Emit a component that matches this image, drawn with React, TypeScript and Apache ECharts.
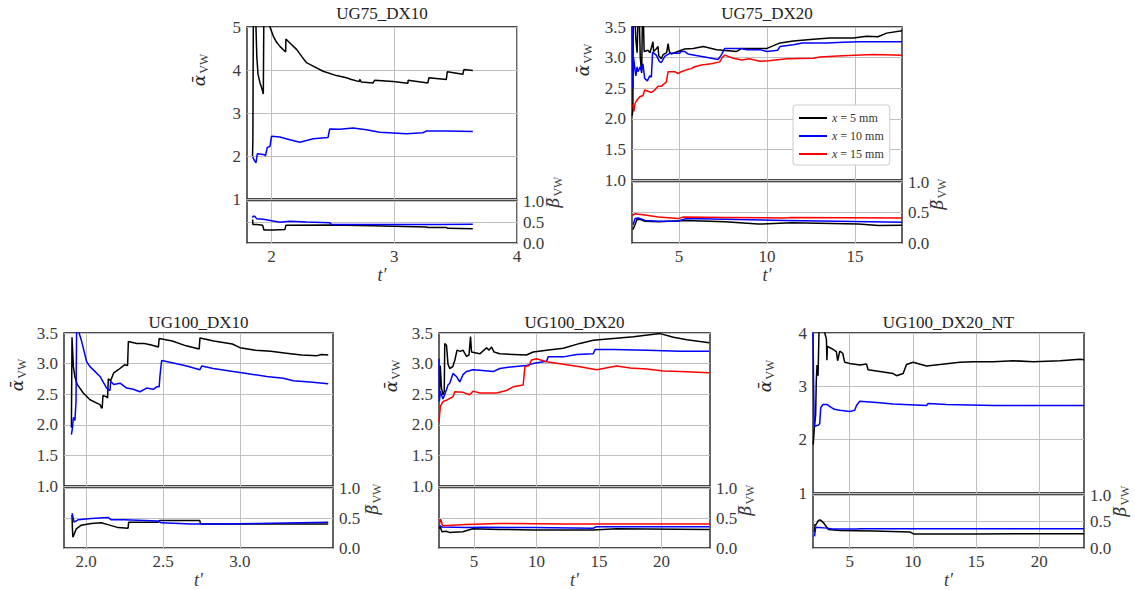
import React, { useEffect, useRef } from 'react';
import * as echarts from 'echarts';

// ---------------- data (t', value) ----------------
// UG75_DX10
const ug75dx10AlphaBlack = [[1.845,2.0],[1.848,2.4],[1.852,5.6],[1.87,5.6],[1.873,5.0],[1.88,4.3],[1.89,3.9],[1.906,3.70],[1.92,3.58],[1.933,3.44],[1.938,5.6],[1.98,5.6],[1.987,5.0],[2.014,4.79],[2.04,4.65],[2.068,4.55],[2.115,4.42],[2.117,4.72],[2.16,4.6],[2.204,4.48],[2.25,4.3],[2.285,4.17],[2.339,4.09],[2.42,3.97],[2.529,3.87],[2.61,3.82],[2.651,3.78],[2.715,3.73],[2.719,3.78],[2.732,3.72],[2.827,3.70],[2.84,3.76],[2.99,3.73],[3.111,3.69],[3.113,3.76],[3.274,3.70],[3.282,3.82],[3.424,3.78],[3.432,3.96],[3.559,3.90],[3.567,4.01],[3.64,3.99]];
const ug75dx10AlphaBlue = [[1.846,1.98],[1.86,1.90],[1.873,1.84],[1.884,2.05],[1.946,2.03],[1.95,2.0],[1.965,2.20],[1.987,2.22],[2.0,2.46],[2.068,2.44],[2.149,2.38],[2.23,2.32],[2.285,2.36],[2.339,2.40],[2.46,2.43],[2.474,2.63],[2.556,2.62],[2.664,2.65],[2.773,2.61],[2.881,2.55],[3.098,2.52],[3.233,2.54],[3.26,2.58],[3.424,2.58],[3.64,2.57]];
const ug75dx10BetaBlack = [[1.846,0.56],[1.848,0.44],[1.879,0.44],[1.928,0.42],[1.938,0.31],[2.014,0.31],[2.109,0.32],[2.117,0.42],[2.475,0.43],[2.827,0.41],[3.26,0.38],[3.274,0.37],[3.423,0.37],[3.437,0.35],[3.64,0.34]];
const ug75dx10BetaBlue = [[1.846,0.60],[1.85,0.635],[1.865,0.635],[1.879,0.575],[1.933,0.565],[2.068,0.495],[2.15,0.52],[2.285,0.50],[2.475,0.48],[2.489,0.44],[2.827,0.44],[3.369,0.44],[3.64,0.445]];

// UG75_DX20
const ug75dx20AlphaBlack = [[2.34,2.05],[2.38,2.15],[2.40,3.6],[2.5,3.6],[2.55,3.3],[2.62,3.08],[2.67,3.6],[2.75,3.6],[2.8,3.0],[2.88,2.75],[2.92,3.6],[2.98,3.6],[3.02,3.1],[3.24,3.12],[3.35,3.08],[3.45,3.18],[3.52,3.26],[3.56,3.1],[3.7,3.14],[3.81,3.18],[3.85,3.03],[4.0,2.98],[4.1,3.05],[4.3,3.08],[4.38,3.23],[4.45,3.1],[4.56,3.06],[4.94,3.10],[5.32,3.14],[5.81,3.15],[6.38,3.18],[7.14,3.13],[8.28,3.10],[8.57,3.15],[10.0,3.15],[10.74,3.24],[11.5,3.27],[12.63,3.30],[13.58,3.32],[14.9,3.32],[15.66,3.35],[16.3,3.34],[16.8,3.40],[17.67,3.44]];
const ug75dx20AlphaBlue = [[2.33,3.55],[2.38,2.5],[2.42,3.0],[2.48,2.85],[2.55,2.70],[2.62,2.85],[2.67,2.77],[2.8,2.85],[2.86,2.78],[2.95,2.90],[3.05,2.66],[3.2,2.62],[3.34,2.70],[3.43,2.68],[3.5,3.09],[3.71,3.04],[3.90,2.93],[4.0,2.92],[4.19,3.02],[4.47,3.07],[5.04,3.07],[5.1,3.10],[5.32,3.10],[5.51,3.06],[5.89,3.04],[6.46,3.01],[7.22,2.97],[7.40,3.04],[7.60,3.15],[8.54,3.15],[8.85,3.13],[9.6,3.13],[10.0,3.10],[10.6,3.12],[10.74,3.18],[11.5,3.21],[12.0,3.24],[13.4,3.24],[14.3,3.25],[15.28,3.26],[17.67,3.26]];
const ug75dx20AlphaRed = [[2.36,2.20],[2.39,2.23],[2.44,2.12],[2.5,2.25],[2.58,2.29],[2.77,2.36],[2.955,2.38],[3.05,2.47],[3.24,2.45],[3.43,2.43],[3.62,2.47],[3.81,2.53],[4.0,2.53],[4.19,2.58],[4.28,2.60],[4.38,2.77],[4.76,2.77],[4.95,2.74],[5.13,2.77],[5.42,2.80],[5.7,2.82],[5.89,2.85],[6.27,2.88],[6.84,2.90],[7.31,2.93],[7.45,3.0],[7.60,3.04],[8.09,2.99],[8.57,2.96],[9.0,2.98],[9.6,2.94],[10.1,2.95],[11.12,2.98],[12.63,2.99],[13.0,3.01],[14.3,3.03],[16.04,3.05],[17.67,3.04]];
const ug75dx20BetaBlack = [[2.38,0.22],[2.41,0.24],[2.5,0.30],[2.6,0.38],[2.78,0.39],[3.07,0.355],[3.83,0.35],[5.4,0.37],[7.61,0.35],[9.5,0.31],[11.4,0.33],[15.19,0.31],[16.33,0.285],[17.67,0.29]];
const ug75dx20BetaBlue = [[2.4,0.30],[2.5,0.40],[2.69,0.41],[3.07,0.37],[3.83,0.355],[4.96,0.36],[5.4,0.40],[7.61,0.39],[11.0,0.37],[14.0,0.355],[17.67,0.34]];
const ug75dx20BetaRed = [[2.35,0.45],[2.5,0.48],[2.69,0.47],[3.07,0.46],[3.83,0.425],[4.96,0.40],[5.25,0.425],[7.61,0.42],[11.0,0.41],[11.4,0.42],[17.67,0.41]];

// UG100_DX10
const ug100dx10AlphaBlack = [[1.905,1.95],[1.909,3.43],[1.913,3.43],[1.918,2.95],[1.928,2.78],[1.943,2.66],[1.982,2.52],[2.026,2.41],[2.091,2.33],[2.1,2.28],[2.105,2.27],[2.11,2.48],[2.13,2.46],[2.14,2.44],[2.145,2.75],[2.16,2.72],[2.18,2.85],[2.21,2.90],[2.25,2.98],[2.27,2.97],[2.275,3.36],[2.33,3.33],[2.38,3.33],[2.43,3.30],[2.47,3.27],[2.475,3.41],[2.56,3.37],[2.65,3.29],[2.735,3.24],[2.74,3.42],[2.83,3.37],[2.95,3.32],[3.0,3.26],[3.1,3.22],[3.2,3.20],[3.3,3.17],[3.4,3.14],[3.5,3.13],[3.53,3.15],[3.573,3.14]];
const ug100dx10AlphaBlue = [[1.905,1.84],[1.912,1.95],[1.918,2.12],[1.928,2.07],[1.935,2.38],[1.939,3.6],[1.945,3.6],[1.955,3.5],[1.972,3.36],[2.004,3.03],[2.026,2.95],[2.091,2.79],[2.134,2.60],[2.156,2.56],[2.16,2.71],[2.18,2.66],[2.221,2.68],[2.264,2.60],[2.307,2.58],[2.35,2.54],[2.394,2.60],[2.437,2.58],[2.459,2.62],[2.475,2.62],[2.48,2.79],[2.491,3.05],[2.567,3.01],[2.654,2.96],[2.74,2.90],[2.751,2.96],[2.826,2.92],[2.956,2.87],[3.065,2.83],[3.173,2.79],[3.281,2.76],[3.346,2.72],[3.454,2.70],[3.573,2.67]];
const ug100dx10BetaBlack = [[1.909,0.55],[1.912,0.30],[1.915,0.18],[1.937,0.32],[1.969,0.38],[2.034,0.41],[2.099,0.42],[2.143,0.39],[2.208,0.34],[2.273,0.33],[2.277,0.43],[2.467,0.43],[2.478,0.46],[2.738,0.46],[2.745,0.40],[3.117,0.40],[3.573,0.40]];
const ug100dx10BetaBlue = [[1.909,0.58],[1.915,0.52],[1.922,0.43],[1.948,0.47],[2.034,0.49],[2.143,0.51],[2.164,0.47],[2.251,0.47],[2.467,0.45],[2.489,0.42],[2.684,0.40],[2.9,0.40],[3.117,0.41],[3.573,0.43]];

// UG100_DX20
const ug100dx20AlphaBlack = [[2.24,2.45],[2.3,2.97],[2.4,2.60],[2.52,2.49],[2.62,2.55],[2.66,3.33],[2.8,3.30],[2.92,2.99],[3.06,2.92],[3.3,2.95],[3.46,3.05],[3.64,3.22],[3.9,3.20],[4.12,3.22],[4.40,3.12],[4.6,3.14],[4.72,3.44],[4.80,3.19],[5.46,3.16],[5.8,3.22],[6.0,3.26],[6.2,3.22],[6.40,3.27],[6.6,3.19],[7.06,3.16],[8.13,3.15],[9.2,3.14],[9.73,3.19],[10.8,3.22],[12.14,3.25],[13.47,3.33],[14.54,3.38],[16.14,3.41],[17.75,3.44],[19.88,3.49],[20.95,3.43],[22.02,3.39],[23.8,3.34]];
const ug100dx20AlphaBlue = [[2.2,3.08],[2.23,2.38],[2.3,2.55],[2.39,2.49],[2.52,2.42],[2.79,2.57],[2.92,2.65],[3.06,2.68],[3.32,2.84],[3.59,2.79],[3.86,2.70],[4.12,2.82],[4.40,2.87],[4.92,2.90],[5.46,2.89],[6.53,2.87],[7.06,2.92],[8.13,2.95],[9.2,2.97],[9.73,3.0],[10.8,3.04],[10.93,3.11],[12.14,3.11],[13.21,3.15],[14.54,3.16],[14.68,3.23],[16.14,3.23],[18.82,3.22],[21.49,3.20],[23.8,3.20]];
const ug100dx20AlphaRed = [[2.2,2.05],[2.31,2.30],[2.52,2.38],[2.79,2.40],[3.32,2.46],[3.46,2.54],[4.12,2.53],[4.66,2.49],[4.92,2.55],[5.46,2.52],[6.8,2.52],[7.6,2.56],[8.13,2.62],[8.93,2.65],[9.07,2.95],[9.4,2.97],[9.6,3.06],[10.0,3.08],[10.8,3.03],[12.14,2.99],[13.47,2.95],[14.81,2.90],[16.41,2.96],[17.48,2.93],[18.82,2.91],[20.15,2.88],[21.49,2.87],[23.8,2.85]];
const ug100dx20BetaBlack = [[2.25,0.32],[2.28,0.36],[2.44,0.27],[2.76,0.28],[3.03,0.26],[4.1,0.27],[4.9,0.32],[7.04,0.31],[9.71,0.30],[14.52,0.30],[16.38,0.32],[23.8,0.31]];
const ug100dx20BetaBlue = [[2.25,0.38],[2.28,0.37],[2.44,0.35],[4.36,0.34],[5.7,0.345],[9.71,0.34],[14.52,0.33],[14.78,0.355],[23.8,0.355]];
const ug100dx20BetaRed = [[2.25,0.40],[2.28,0.47],[2.36,0.47],[2.44,0.40],[2.49,0.37],[4.36,0.39],[7.04,0.41],[12.38,0.40],[17.72,0.40],[23.8,0.40]];

// UG100_DX20_NT
const ug100ntAlphaBlack = [[2.12,1.91],[2.2,2.2],[2.31,2.47],[2.36,3.1],[2.42,3.40],[2.5,3.2],[2.58,4.1],[2.8,4.1],[3.03,4.0],[3.16,3.89],[3.2,3.49],[3.24,3.75],[3.56,3.71],[3.95,3.65],[4.05,3.48],[4.22,3.66],[4.45,3.62],[4.61,3.45],[5.01,3.43],[5.8,3.40],[6.33,3.42],[6.46,3.31],[7.39,3.28],[8.44,3.24],[8.71,3.20],[9.23,3.24],[9.50,3.41],[10.02,3.45],[11.09,3.38],[12.14,3.41],[13.72,3.45],[14.78,3.46],[16.36,3.46],[17.95,3.48],[19.53,3.46],[21.65,3.48],[23.23,3.51],[23.54,3.50]];
const ug100ntAlphaBlue = [[2.1,4.1],[2.15,3.0],[2.2,2.25],[2.5,2.27],[2.63,2.30],[2.71,2.60],[2.89,2.66],[3.2,2.66],[3.56,2.60],[3.8,2.57],[4.22,2.55],[5.01,2.53],[5.4,2.55],[5.54,2.64],[5.8,2.72],[6.33,2.71],[7.39,2.69],[8.44,2.67],[11.09,2.64],[11.21,2.68],[12.67,2.66],[16.36,2.64],[23.54,2.64]];
const ug100ntBetaBlack = [[2.22,0.30],[2.26,0.45],[2.31,0.43],[2.53,0.52],[2.66,0.53],[2.92,0.48],[3.19,0.39],[3.32,0.35],[4.24,0.33],[6.89,0.32],[9.79,0.30],[10.06,0.265],[14.81,0.265],[23.54,0.27]];
const ug100ntBetaBlue = [[2.22,0.22],[2.26,0.22],[2.31,0.39],[3.19,0.375],[3.6,0.36],[5.56,0.36],[5.83,0.365],[14.81,0.365],[23.54,0.365]];

// tick values
const ticksUG75DX10 = [2, 3, 4];
const ticksUG75DX20 = [5, 10, 15];
const ticksUG100DX10 = [2.0, 2.5, 3.0];
const ticksUG100DX20 = [5, 10, 15, 20];
const ticksUG100NT = [5, 10, 15, 20];

const legendNames = ['x = 5 mm', 'x = 10 mm', 'x = 15 mm'];

const BLACK = '#000000';
const BLUE = '#0000ff';
const RED = '#ff0000';
const FONT = '"Liberation Serif", "DejaVu Serif", serif';
const LABEL_COLOR = '#3a3a3a';
const GRID_COLOR = '#c0c0c0';

const int = (v: number) => String(Math.round(v));
const one = (v: number) => v.toFixed(1);

const panels = [
  {
    title: 'UG75_DX10', left: 247, width: 270, top: 27, split: 200, bottom: 243,
    xMin: 1.8, xMax: 4, xTicks: ticksUG75DX10, xFmt: int, aMax: 5, aInt: 1, aFmt: int,
    alpha: [{ n: 'a1k', c: BLACK, d: ug75dx10AlphaBlack }, { n: 'a1b', c: BLUE, d: ug75dx10AlphaBlue }],
    beta: [{ n: 'b1k', c: BLACK, d: ug75dx10BetaBlack }, { n: 'b1b', c: BLUE, d: ug75dx10BetaBlue }],
    aLab: [199, 70], bLab: [553, 192], titleY: 13,
  },
  {
    title: 'UG75_DX20', left: 632, width: 270, top: 27, split: 181, bottom: 243,
    xMin: 2.33, xMax: 17.67, xTicks: ticksUG75DX20, xFmt: int, aMax: 3.5, aInt: 0.5, aFmt: one,
    alpha: [{ n: legendNames[0], c: BLACK, d: ug75dx20AlphaBlack }, { n: legendNames[1], c: BLUE, d: ug75dx20AlphaBlue }, { n: legendNames[2], c: RED, d: ug75dx20AlphaRed }],
    beta: [{ n: 'b2k', c: BLACK, d: ug75dx20BetaBlack }, { n: 'b2b', c: BLUE, d: ug75dx20BetaBlue }, { n: 'b2r', c: RED, d: ug75dx20BetaRed }],
    aLab: [583, 60], bLab: [937, 194], titleY: 13,
  },
  {
    title: 'UG100_DX10', left: 64, width: 269, top: 333, split: 487, bottom: 548,
    xMin: 1.857, xMax: 3.604, xTicks: ticksUG100DX10, xFmt: one, aMax: 3.5, aInt: 0.5, aFmt: one,
    alpha: [{ n: 'a3k', c: BLACK, d: ug100dx10AlphaBlack }, { n: 'a3b', c: BLUE, d: ug100dx10AlphaBlue }],
    beta: [{ n: 'b3k', c: BLACK, d: ug100dx10BetaBlack }, { n: 'b3b', c: BLUE, d: ug100dx10BetaBlue }],
    aLab: [17, 375], bLab: [372, 499], titleY: 322,
  },
  {
    title: 'UG100_DX20', left: 439, width: 271, top: 333, split: 487, bottom: 548,
    xMin: 2.2, xMax: 23.87, xTicks: ticksUG100DX20, xFmt: int, aMax: 3.5, aInt: 0.5, aFmt: one,
    alpha: [{ n: 'a4k', c: BLACK, d: ug100dx20AlphaBlack }, { n: 'a4b', c: BLUE, d: ug100dx20AlphaBlue }, { n: 'a4r', c: RED, d: ug100dx20AlphaRed }],
    beta: [{ n: 'b4k', c: BLACK, d: ug100dx20BetaBlack }, { n: 'b4b', c: BLUE, d: ug100dx20BetaBlue }, { n: 'b4r', c: RED, d: ug100dx20BetaRed }],
    aLab: [391, 376], bLab: [745, 500], titleY: 322,
  },
  {
    title: 'UG100_DX20_NT', left: 813, width: 271, top: 333, split: 494, bottom: 548,
    xMin: 2.1, xMax: 23.54, xTicks: ticksUG100NT, xFmt: int, aMax: 4, aInt: 1, aFmt: int,
    alpha: [{ n: 'a5k', c: BLACK, d: ug100ntAlphaBlack }, { n: 'a5b', c: BLUE, d: ug100ntAlphaBlue }],
    beta: [{ n: 'b5k', c: BLACK, d: ug100ntBetaBlack }, { n: 'b5b', c: BLUE, d: ug100ntBetaBlue }],
    aLab: [765, 376], bLab: [1120, 501], titleY: 322,
  },
];

function buildOption() {
  const grid: any[] = [];
  const xAxis: any[] = [];
  const yAxis: any[] = [];
  const series: any[] = [];
  const graphic: any[] = [];
  const labelStyle = { fontFamily: FONT, fontSize: 17, color: LABEL_COLOR };

  panels.forEach((p, i) => {
    const gu = i * 2;
    const gl = i * 2 + 1;
    const gridBase = { show: true, borderColor: '#111', borderWidth: 1.3, backgroundColor: 'transparent', containLabel: false, outerBoundsMode: 'none' };
    grid.push({ ...gridBase, left: p.left, top: p.top, width: p.width, height: p.split - 1 - p.top });
    grid.push({ ...gridBase, left: p.left, top: p.split + 1, width: p.width, height: p.bottom - p.split - 1 });

    const xBase = {
      type: 'value', min: p.xMin, max: p.xMax,
      axisLine: { show: false },
      axisTick: { show: false, customValues: p.xTicks },
      splitLine: { show: true, lineStyle: { color: GRID_COLOR, width: 1 } },
    };
    xAxis.push({ ...xBase, gridIndex: gu, axisLabel: { show: false, customValues: p.xTicks } });
    xAxis.push({
      ...xBase, gridIndex: gl,
      axisLabel: { show: true, customValues: p.xTicks, formatter: p.xFmt, margin: 5, ...labelStyle },
      name: 't\u2032', nameLocation: 'middle', nameGap: 22,
      nameTextStyle: { fontFamily: FONT, fontSize: 18, fontStyle: 'italic', color: LABEL_COLOR },
    });
    yAxis.push({
      type: 'value', gridIndex: gu, position: 'left', min: 1, max: p.aMax, interval: p.aInt,
      axisLine: { show: false }, axisTick: { show: false },
      axisLabel: { formatter: p.aFmt, margin: 6, ...labelStyle },
      splitLine: { show: true, lineStyle: { color: GRID_COLOR, width: 1 } },
    });
    yAxis.push({
      type: 'value', gridIndex: gl, position: 'right', min: 0, max: 1, interval: 0.5,
      axisLine: { show: false }, axisTick: { show: false },
      axisLabel: { formatter: one, margin: 6, ...labelStyle },
      splitLine: { show: true, lineStyle: { color: GRID_COLOR, width: 1 } },
    });

    const mk = (s: any, idx: number) => ({
      type: 'line', name: s.n, xAxisIndex: idx, yAxisIndex: idx, data: s.d,
      showSymbol: false, symbol: 'none', silent: true, clip: true,
      lineStyle: { color: s.c, width: 1.5 }, itemStyle: { color: s.c },
    });
    p.alpha.forEach((s) => series.push(mk(s, gu)));
    p.beta.forEach((s) => series.push(mk(s, gl)));

    graphic.push({
      type: 'text', x: p.left + p.width / 2, y: p.titleY,
      style: { text: p.title, fontFamily: FONT, fontSize: 17, fill: '#222', align: 'center', verticalAlign: 'middle' },
    });
    graphic.push({
      type: 'text', x: p.aLab[0], y: p.aLab[1], rotation: Math.PI / 2,
      style: {
        text: '{a|\u1FB1}{s|VW}', align: 'center', verticalAlign: 'middle',
        rich: {
          a: { fontFamily: '"DejaVu Serif", serif', fontSize: 17, fontStyle: 'italic', fill: '#222' },
          s: { fontFamily: FONT, fontSize: 12, fill: '#333', padding: [9, 0, 0, 1] },
        },
      },
    });
    graphic.push({
      type: 'text', x: p.bLab[0], y: p.bLab[1], rotation: Math.PI / 2,
      style: {
        text: '{a|\u03B2\u0305}{s|VW}', align: 'center', verticalAlign: 'middle',
        rich: {
          a: { fontFamily: '"DejaVu Serif", serif', fontSize: 17, fontStyle: 'italic', fill: '#333' },
          s: { fontFamily: FONT, fontSize: 12, fill: '#444', padding: [9, 0, 0, 1] },
        },
      },
    });
  });

  return {
    animation: false,
    backgroundColor: '#ffffff',
    grid, xAxis, yAxis, series, graphic,
    legend: {
      show: true,
      data: legendNames,
      left: 793, top: 105,
      orient: 'vertical',
      icon: 'rect', itemWidth: 28, itemHeight: 2, itemGap: 6,
      padding: [7, 6, 5, 6],
      backgroundColor: '#ffffff', borderColor: '#cccccc', borderWidth: 1, borderRadius: 3,
      selectedMode: false,
      formatter: (name: string) => '{i|x}' + name.slice(1),
      textStyle: { fontFamily: FONT, fontSize: 12, color: '#333', rich: { i: { fontStyle: 'italic', fontFamily: FONT, fontSize: 12, color: '#333' } } },
    },
  };
}

export default function App() {
  const ref = useRef<HTMLDivElement>(null);
  useEffect(() => {
    if (!ref.current) return;
    const chart = echarts.init(ref.current, undefined, { renderer: 'svg' });
    chart.setOption(buildOption() as any);
    return () => chart.dispose();
  }, []);
  return (
    <div
      ref={ref}
      style={{ position: 'absolute', left: 0, top: 0, width: 1135, height: 590, background: '#fff' }}
    />
  );
}
